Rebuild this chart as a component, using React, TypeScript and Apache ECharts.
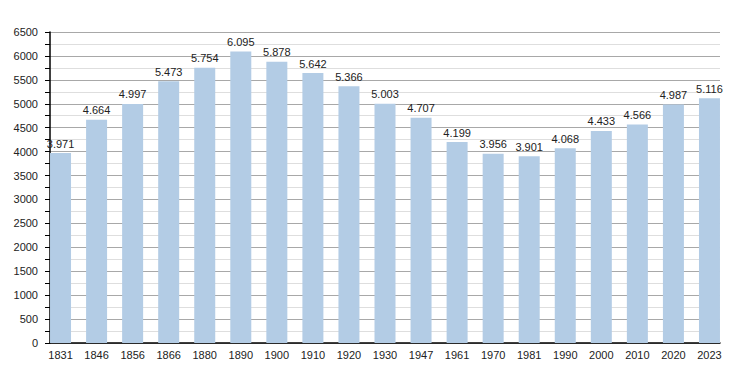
import React, { useEffect, useRef } from "react";
import * as echarts from "echarts";

const years = ["1831","1846","1856","1866","1880","1890","1900","1910","1920","1930","1947","1961","1970","1981","1990","2000","2010","2020","2023"];
const population = [3971,4664,4997,5473,5754,6095,5878,5642,5366,5003,4707,4199,3956,3901,4068,4433,4566,4987,5116];
const yMax = 6500;
const yStep = 500;

const fmt = (v: number) => String(v).replace(/\B(?=(\d{3})+(?!\d))/g, ".");

export default function App() {
  const ref = useRef<HTMLDivElement>(null);
  useEffect(() => {
    const chart = echarts.init(ref.current!, null, { renderer: "svg" });
    const font = "Liberation Sans, Arial, sans-serif";
    chart.setOption({
      animation: false,
      backgroundColor: "#ffffff",
      grid: [
        { left: 50, right: 30, top: 32, bottom: 30 },
        { left: 42.5, right: 22.5, top: 32, bottom: 30 },
      ],
      xAxis: [
        {
          type: "value", gridIndex: 0, min: 0, max: 1,
          axisLine: { show: true, lineStyle: { color: "#000", width: 1.5 } },
          axisTick: { show: false }, axisLabel: { show: false }, splitLine: { show: false },
        },
        {
          type: "category", gridIndex: 1, data: years,
          axisLine: { show: false }, axisTick: { show: false },
          axisLabel: { color: "#222", fontSize: 11, fontFamily: font, margin: 6 },
        },
      ],
      yAxis: [
        {
          type: "value", gridIndex: 0, min: 0, max: yMax, interval: yStep,
          axisLine: { show: true, lineStyle: { color: "#000", width: 1.5 } },
          axisTick: { show: true, length: 5, lineStyle: { color: "#000" } },
          minorTick: { show: true, splitNumber: 2, length: 5, lineStyle: { color: "#000" } },
          axisLabel: { color: "#222", fontSize: 11, fontFamily: font, margin: 12, formatter: (v: number) => String(v) },
          splitLine: { show: true, lineStyle: { color: "#a8a8a8", width: 1 } },
          minorSplitLine: { show: true, lineStyle: { color: "#dedede", width: 1 } },
        },
        {
          type: "value", gridIndex: 1, min: 0, max: yMax, show: false,
          splitLine: { show: false },
        },
      ],
      series: [
        {
          type: "bar", xAxisIndex: 1, yAxisIndex: 1, data: population, barWidth: 21,
          itemStyle: { color: "#b3cce5" },
          label: {
            show: true, position: "top", distance: 4, color: "#222", fontSize: 11, fontFamily: font,
            formatter: (p: any) => fmt(p.value),
          },
        },
      ],
    });
    return () => chart.dispose();
  }, []);
  return <div ref={ref} style={{ width: 750, height: 373, position: "absolute", left: 0, top: 0 }} />;
}
